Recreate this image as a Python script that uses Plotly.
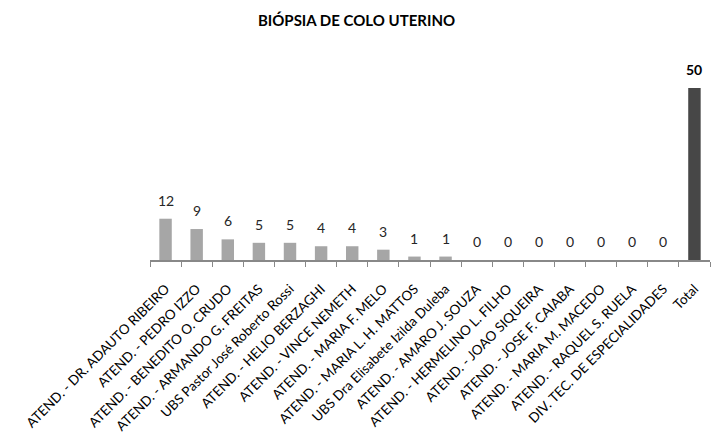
import plotly.graph_objects as go

categories = [
    "ATEND. - DR. ADAUTO RIBEIRO",
    "ATEND. - PEDRO IZZO",
    "ATEND. - BENEDITO O. CRUDO",
    "ATEND. - ARMANDO G. FREITAS",
    "UBS Pastor José Roberto Rossi",
    "ATEND. - HELIO BERZAGHI",
    "ATEND. - VINCE NEMETH",
    "ATEND. - MARIA F. MELO",
    "ATEND. - MARIA L. H. MATTOS",
    "UBS Dra Elisabete Izilda Duleba",
    "ATEND. - AMARO J. SOUZA",
    "ATEND. - HERMELINO L. FILHO",
    "ATEND. - JOAO SIQUEIRA",
    "ATEND. - JOSE F. CAIABA",
    "ATEND. - MARIA M. MACEDO",
    "ATEND. - RAQUEL S. RUELA",
    "DIV. TEC. DE ESPECIALIDADES",
    "Total",
]
values = [12, 9, 6, 5, 5, 4, 4, 3, 1, 1, 0, 0, 0, 0, 0, 0, 0, 50]

colors = ["#A6A6A6"] * (len(values) - 1) + ["#474747"]

FONT = "Lato, 'Open Sans', sans-serif"

fig = go.Figure(
    go.Bar(
        x=categories,
        y=values,
        marker=dict(color=colors, line=dict(width=0)),
        width=0.4,
        hoverinfo="x+y",
    )
)

# value labels above each bar; the total is shown in bold
for i, (cat, v) in enumerate(zip(categories, values)):
    is_total = i == len(values) - 1
    fig.add_annotation(
        x=cat,
        y=v,
        text=("<b>%d</b>" % v) if is_total else str(v),
        showarrow=False,
        yanchor="bottom",
        yshift=8,
        font=dict(family=FONT, size=14, color="#000000" if is_total else "#262626"),
    )

fig.update_layout(
    width=713,
    height=440,
    margin=dict(l=150, r=3, t=88, b=180),
    paper_bgcolor="white",
    plot_bgcolor="white",
    showlegend=False,
    title=dict(
        text="<b>BIÓPSIA DE COLO UTERINO</b>",
        x=0.5,
        xanchor="center",
        y=0.953,
        yanchor="middle",
        font=dict(family=FONT, size=15, color="#000000"),
    ),
    xaxis=dict(
        type="category",
        tickangle=-45,
        tickfont=dict(family=FONT, size=13.5, color="#000000"),
        ticklabelstandoff=14,
        showline=True,
        linecolor="#888888",
        linewidth=1.5,
        ticks="outside",
        tickson="boundaries",
        ticklen=5,
        tickcolor="#888888",
        showgrid=False,
        automargin=False,
    ),
    yaxis=dict(
        range=[0, 50],
        visible=False,
        showgrid=False,
        zeroline=False,
    ),
)

fig.write_html("out.html")
